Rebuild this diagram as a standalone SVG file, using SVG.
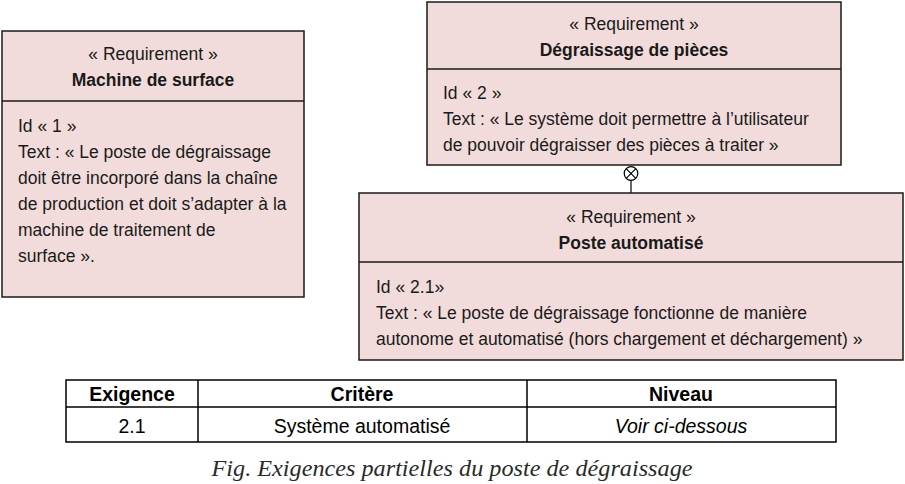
<svg xmlns="http://www.w3.org/2000/svg" width="905" height="484" viewBox="0 0 905 484">
<style>
.box{fill:#f2dcdb;stroke:#1a1a1a;stroke-width:1.5}
.div{stroke:#1a1a1a;stroke-width:1.5}
text{font-family:"Liberation Sans",Arial,sans-serif;fill:#1a1a1a}
.st{font-size:17.5px;text-anchor:middle}
.ti{font-size:17.5px;font-weight:bold;text-anchor:middle}
.bd{font-size:17.5px}
.tl{stroke:#000;stroke-width:1.5;fill:none}
.th{font-size:19.5px;font-weight:bold;text-anchor:middle;fill:#000}
.td{font-size:19.5px;text-anchor:middle;fill:#000}
.cap{font-family:"Liberation Serif","Times New Roman",serif;font-style:italic;font-size:23px;text-anchor:middle;fill:#2a2a2a}
</style>
<rect width="905" height="484" fill="#fff"/>
<g id="connectors">
<circle cx="631" cy="173.5" r="6.8" fill="#fff" stroke="#000" stroke-width="1.2"/>
<line x1="626.2" y1="168.7" x2="635.8" y2="178.3" stroke="#000" stroke-width="1.2"/>
<line x1="635.8" y1="168.7" x2="626.2" y2="178.3" stroke="#000" stroke-width="1.2"/>
<line x1="631" y1="180.3" x2="631" y2="193" stroke="#000" stroke-width="1.2"/>
</g>
<g id="req1">
<rect class="box" x="2" y="31" width="302" height="266"/>
<line class="div" x1="2" y1="101" x2="304" y2="101"/>
<text class="st" x="153" y="60">« Requirement »</text>
<text class="ti" x="153" y="86">Machine de surface</text>
<text class="bd" x="18" y="132">Id « 1 »</text>
<text class="bd" x="18" y="158">Text : « Le poste de dégraissage</text>
<text class="bd" x="18" y="184">doit être incorporé dans la chaîne</text>
<text class="bd" x="18" y="210">de production et doit s’adapter à la</text>
<text class="bd" x="18" y="236">machine de traitement de</text>
<text class="bd" x="18" y="262">surface ».</text>
</g>
<g id="req2">
<rect class="box" x="427" y="2" width="414" height="163"/>
<line class="div" x1="427" y1="69" x2="841" y2="69"/>
<text class="st" x="634" y="30">« Requirement »</text>
<text class="ti" x="634" y="56">Dégraissage de pièces</text>
<text class="bd" x="443" y="99">Id « 2 »</text>
<text class="bd" x="443" y="125">Text : « Le système doit permettre à l’utilisateur</text>
<text class="bd" x="443" y="151">de pouvoir dégraisser des pièces à traiter »</text>
</g>
<g id="req21">
<rect class="box" x="359" y="193" width="544" height="167"/>
<line class="div" x1="359" y1="262" x2="903" y2="262"/>
<text class="st" x="631" y="223">« Requirement »</text>
<text class="ti" x="631" y="249">Poste automatisé</text>
<text class="bd" x="376" y="293">Id « 2.1»</text>
<text class="bd" x="376" y="319">Text : « Le poste de dégraissage fonctionne de manière</text>
<text class="bd" x="376" y="345">autonome et automatisé (hors chargement et déchargement) »</text>
</g>
<g id="table">
<rect class="tl" x="66" y="380" width="770" height="62"/>
<line class="tl" x1="66" y1="407" x2="836" y2="407"/>
<line class="tl" x1="198" y1="380" x2="198" y2="442"/>
<line class="tl" x1="527" y1="380" x2="527" y2="442"/>
<text class="th" x="132" y="401">Exigence</text>
<text class="th" x="362" y="401">Critère</text>
<text class="th" x="681" y="401">Niveau</text>
<text class="td" x="132" y="433">2.1</text>
<text class="td" x="362" y="433">Système automatisé</text>
<text class="td" x="681" y="433" font-style="italic">Voir ci-dessous</text>
</g>
<text class="cap" x="452" y="476" textLength="481" lengthAdjust="spacingAndGlyphs">Fig. Exigences partielles du poste de dégraissage</text>
</svg>
